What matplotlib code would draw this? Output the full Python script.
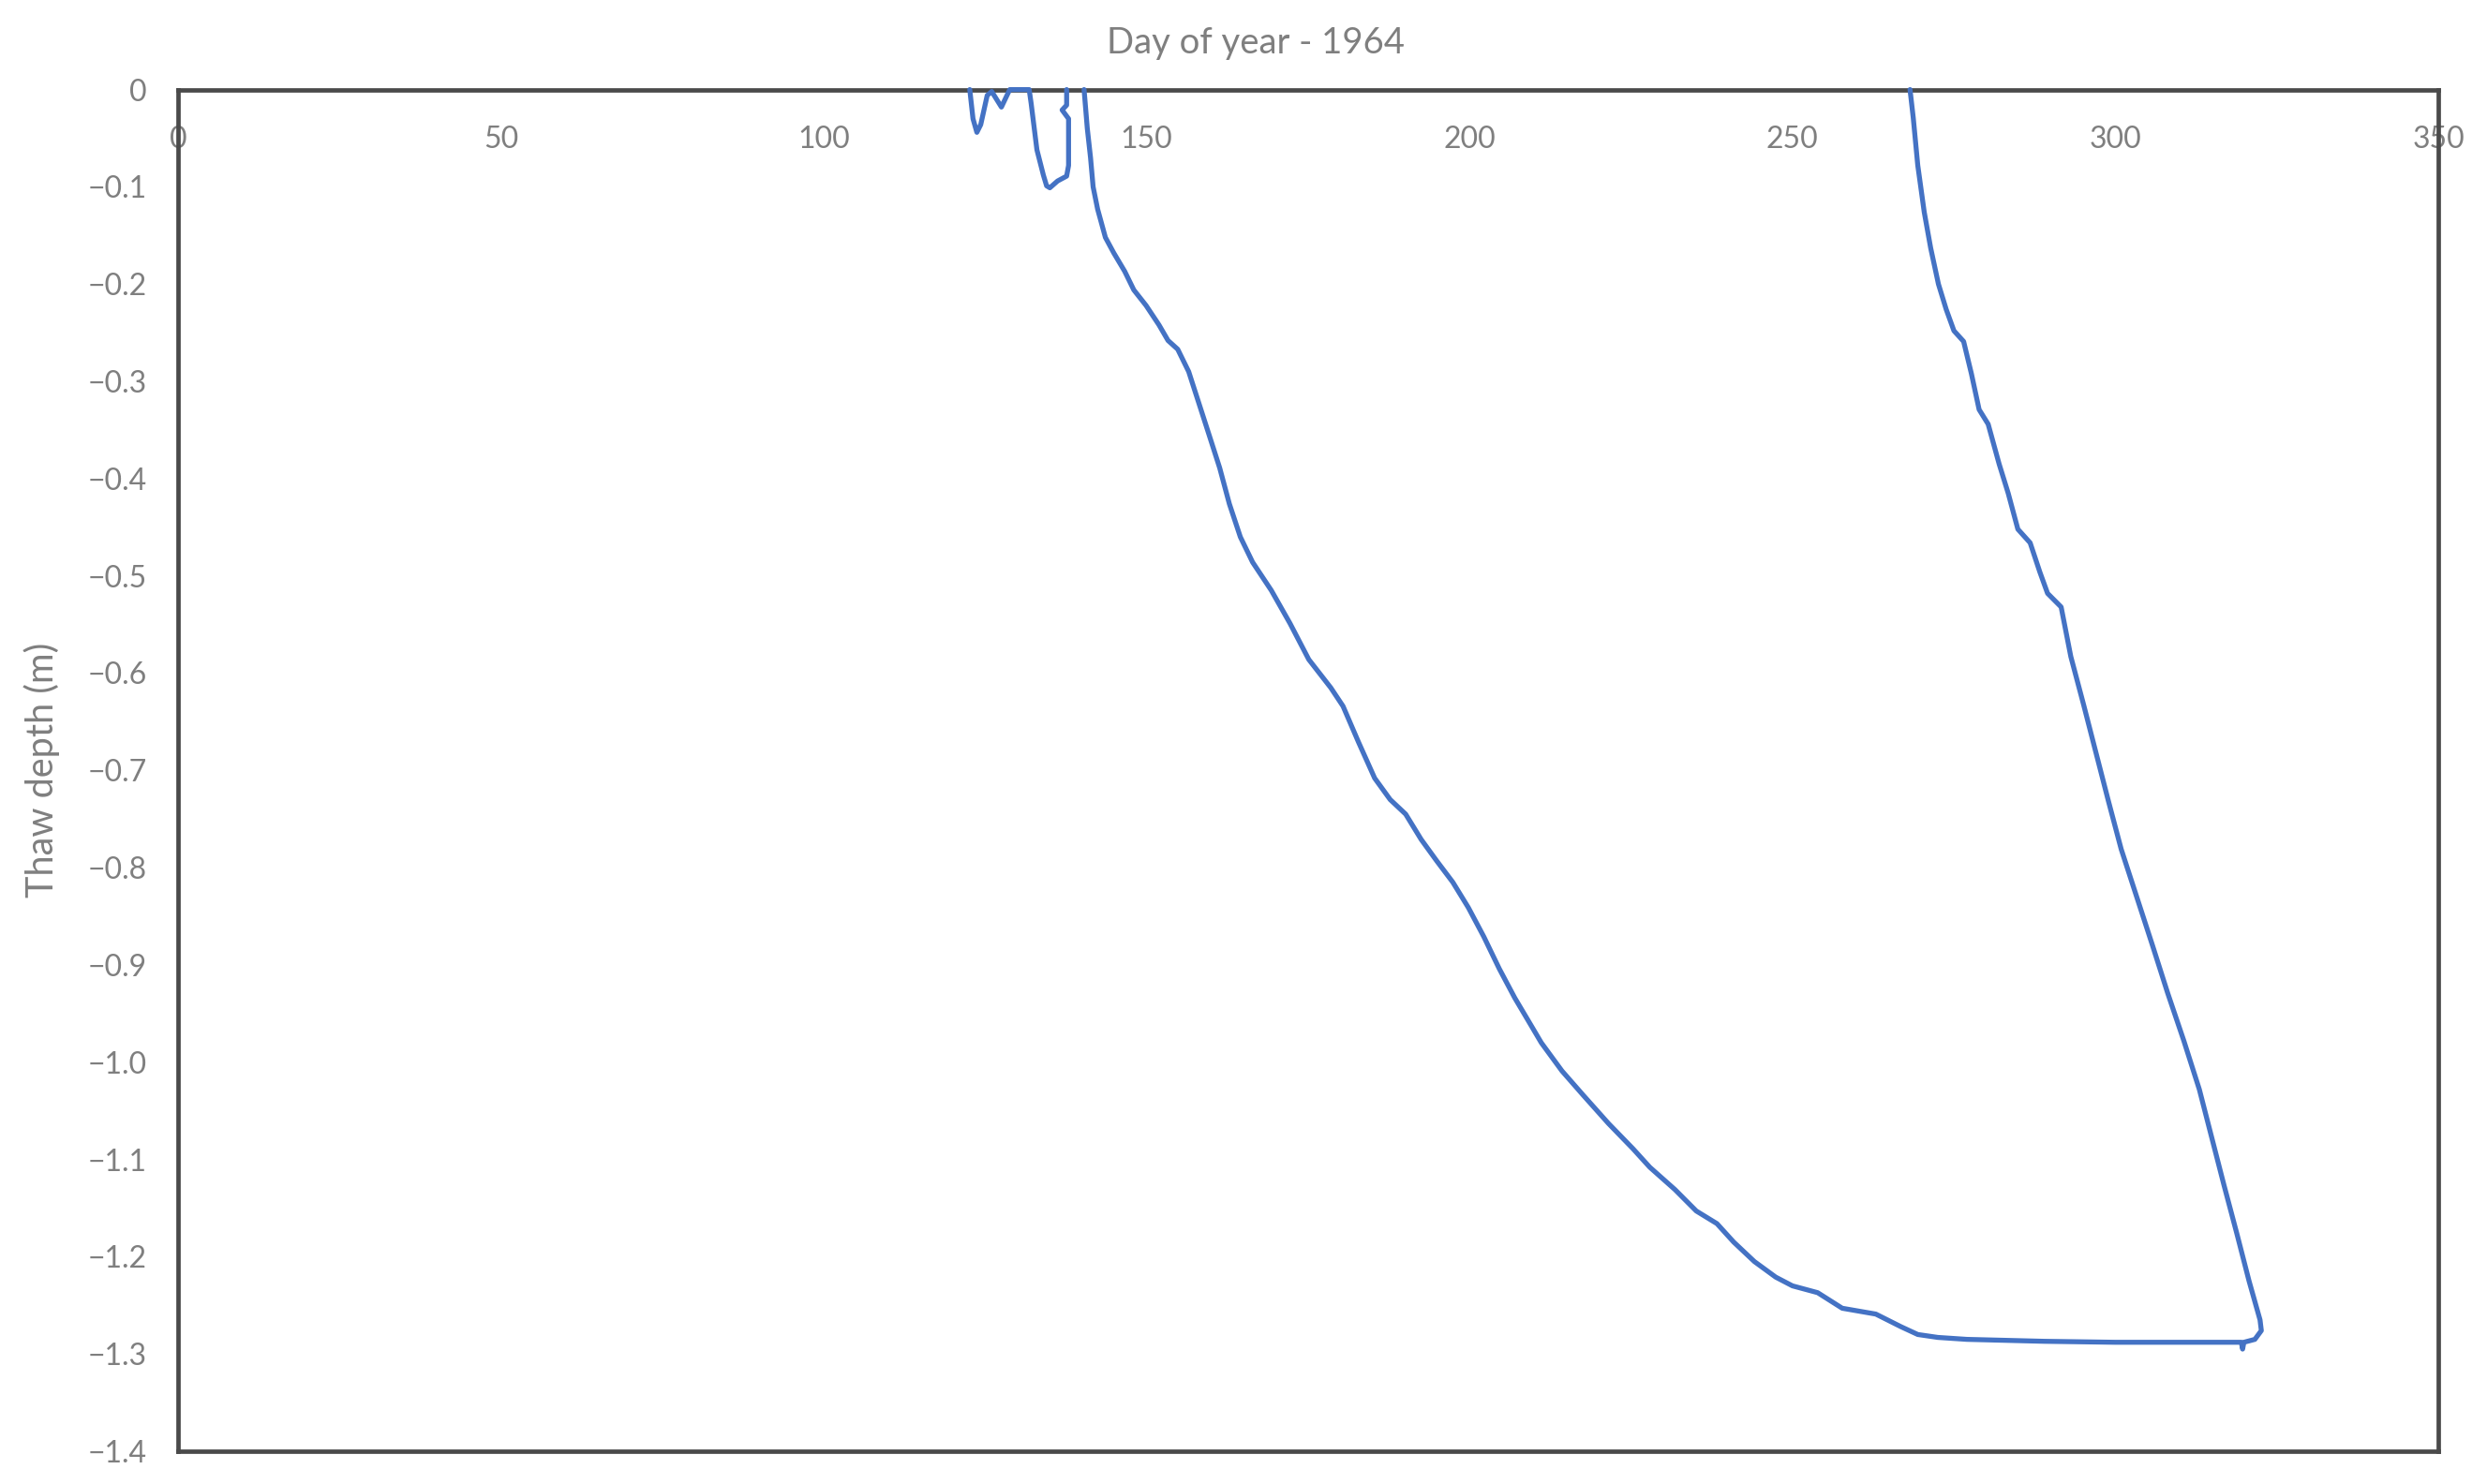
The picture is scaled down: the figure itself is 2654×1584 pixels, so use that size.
import numpy as np
import matplotlib
matplotlib.use("Agg")
import matplotlib.pyplot as plt
from matplotlib.ticker import FuncFormatter

# ---- data ----
# early spring thaw/refreeze episodes near the surface
early_day = [122.6, 123.1, 123.7, 124.3, 125.3, 126.0, 127.5, 128.5, 128.8, 131.8,
             132.1, 133.0, 134.0, 134.5, 135.0, 136.2, 137.6, 137.9, 137.9, 136.9,
             137.6, 137.6]
early_depth = [0.0, -0.030, -0.044, -0.036, -0.006, -0.002, -0.018, -0.004, 0.0, 0.0,
               -0.014, -0.062, -0.088, -0.099, -0.101, -0.094, -0.089, -0.078, -0.030, -0.021,
               -0.016, 0.0]

# main thaw front descending through summer, then bottom plateau
thaw_day = [140.3, 140.8, 141.3, 141.7, 142.4, 143.6, 144.9, 146.6, 148.0, 149.9,
            151.9, 153.3, 154.8, 156.5, 158.2, 159.9, 161.3, 162.8, 164.5, 166.4,
            169.3, 172.2, 175.1, 178.5, 180.4, 182.8, 185.3, 187.7, 190.1, 192.5,
            194.9, 197.4, 199.8, 202.2, 204.6, 207.0, 209.5, 211.1, 214.3, 217.6,
            221.5, 225.3, 227.9, 231.8, 235.1, 238.3, 240.9, 244.1, 247.4, 250.0,
            253.9, 257.7, 262.9, 266.8, 269.4, 272.5, 277.0, 289.0, 300.0, 319.5,
            319.7, 319.9, 321.6, 322.6]
thaw_depth = [0.0, -0.040, -0.070, -0.100, -0.123, -0.152, -0.168, -0.187, -0.206, -0.222,
              -0.242, -0.258, -0.267, -0.290, -0.325, -0.360, -0.389, -0.426, -0.460, -0.486,
              -0.515, -0.549, -0.586, -0.615, -0.634, -0.671, -0.708, -0.730, -0.745, -0.771,
              -0.793, -0.815, -0.841, -0.871, -0.904, -0.934, -0.962, -0.980, -1.009, -1.034,
              -1.063, -1.089, -1.108, -1.131, -1.153, -1.166, -1.185, -1.205, -1.221, -1.230,
              -1.237, -1.253, -1.259, -1.272, -1.280, -1.283, -1.285, -1.287, -1.288, -1.288,
              -1.295, -1.288, -1.285, -1.276]

# autumn freezing front from the surface (drawn bottom -> top)
freeze_day = [322.4, 320.7, 318.8, 316.8, 314.9, 313.0, 310.6, 308.1, 305.7, 303.3,
              300.9, 298.9, 297.0, 295.1, 293.1, 291.6, 289.5, 288.3, 286.8, 284.9,
              283.4, 282.0, 280.3, 278.9, 277.7, 276.5, 275.0, 273.8, 272.6, 271.4,
              270.4, 269.4, 268.7, 268.2]
freeze_depth = [-1.265, -1.225, -1.176, -1.126, -1.077, -1.028, -0.978, -0.929, -0.879, -0.830,
                -0.781, -0.731, -0.682, -0.633, -0.583, -0.532, -0.518, -0.496, -0.466, -0.452,
                -0.415, -0.385, -0.344, -0.329, -0.292, -0.259, -0.248, -0.226, -0.200, -0.163,
                -0.126, -0.078, -0.029, 0.0]

x_ticks = [0, 50, 100, 150, 200, 250, 300, 350]
y_ticks = [0, -0.1, -0.2, -0.3, -0.4, -0.5, -0.6, -0.7, -0.8, -0.9, -1.0, -1.1, -1.2, -1.3, -1.4]

title_text = "Day of year - 1964"
ylabel_text = "Thaw depth (m)"

# ---- styling ----
plt.rcParams['font.family'] = ['Lato', 'DejaVu Sans']
line_color = "#4472C4"
text_color = "#7f7f7f"
spine_color = "#4a4a4a"

W, H = 2654, 1584
fig = plt.figure(figsize=(W / 100, H / 100), dpi=100)
ax = fig.add_axes([190 / W, 1 - 1549 / H, (2602 - 190) / W, (1549 - 95.6) / H])

main_x = list(thaw_day) + list(freeze_day)
main_y = list(thaw_depth) + list(freeze_depth)
for xs, ys in ((early_day, early_depth), (main_x, main_y)):
    ax.plot(xs, ys, color=line_color, lw=3.8, solid_joinstyle='round',
            solid_capstyle='round', zorder=3, clip_on=False)

ax.set_xlim(0, 350)
ax.set_ylim(-1.4, 0)
ax.set_xticks(x_ticks)
ax.set_yticks(y_ticks)


def yfmt(v, pos):
    if abs(v) < 1e-9:
        return "0"
    return "\u2212" + f"{abs(v):.1f}"


ax.yaxis.set_major_formatter(FuncFormatter(yfmt))
ax.xaxis.set_major_formatter(FuncFormatter(lambda v, p: f"{int(round(v))}"))

ax.tick_params(axis='x', which='both', length=0, top=False, bottom=False,
               labeltop=True, labelbottom=False, pad=-49, labelsize=23, labelcolor=text_color)
ax.tick_params(axis='y', which='both', length=0, pad=24, labelsize=23, labelcolor=text_color)

for s in ax.spines.values():
    s.set_color(spine_color)
    s.set_linewidth(3.4)

ax.set_ylabel(ylabel_text, fontsize=28.5, color=text_color)
ax.yaxis.set_label_coords((64 - 190) / (2602 - 190), 0.5)

fig.text(1340 / W, 1 - 45.7 / H, title_text, ha='center', va='center', fontsize=27.5, color=text_color)

fig.savefig("out.png", dpi=100, facecolor='white')
